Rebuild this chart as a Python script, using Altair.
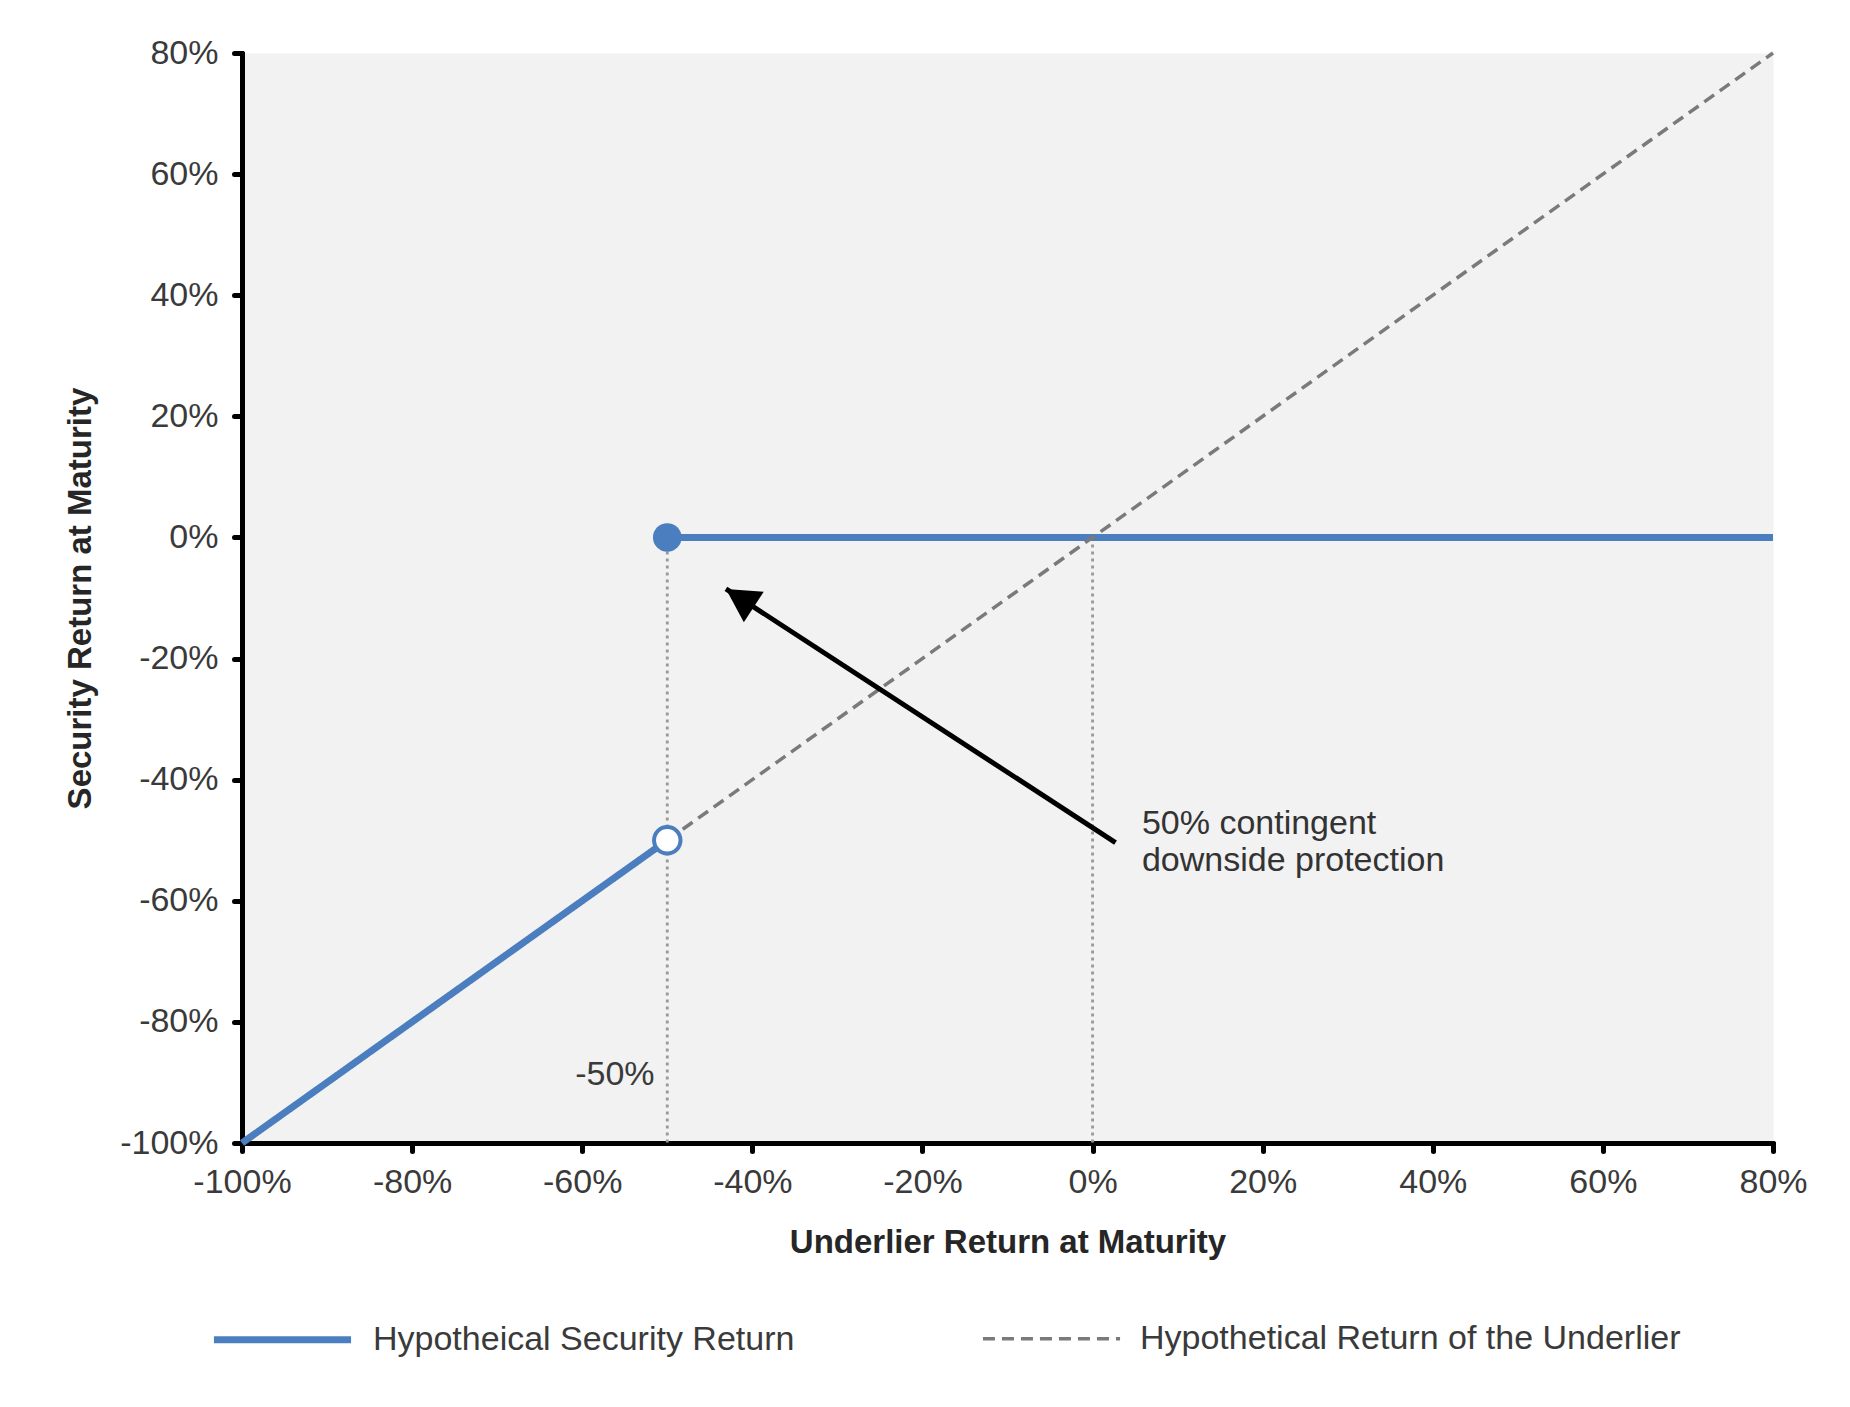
import altair as alt
import pandas as pd

# ---- data ----
series_names = ["Hypotheical Security Return", "Hypothetical Return of the Underlier"]

security_x = [-100, -50, -50, 80]
security_y = [-100, -50, 0, 0]
security_seg = ["below", "below", "above", "above"]

underlier_x = [-50, 80]
underlier_y = [-50, 80]

barrier_x = [-50, 0]          # dotted verticals (from 0% down to -100%)
barrier_top = [0, 0]
barrier_bottom = [-100, -100]

filled_pt_x = [-50]
filled_pt_y = [0]
hollow_pt_x = [-50]
hollow_pt_y = [-50]

arrow_tail_x = [2.7]
arrow_tail_y = [-50.4]
arrow_tip_x = [-43.1]
arrow_tip_y = [-8.5]

note_lines = ["50% contingent", "downside protection"]
note_x = [5.8, 5.8]
note_y = [-47.4, -53.4]

barrier_label = ["-50%"]
barrier_label_x = [-51.5]
barrier_label_y = [-88.7]

ticks = [-100, -80, -60, -40, -20, 0, 20, 40, 60, 80]

BLUE = "#4a7ebf"
GRAY = "#7a7a7a"
FONT = "Liberation Sans"
FS = 34

# ---- tables ----
lines_df = pd.DataFrame({
    "x": security_x + underlier_x,
    "y": security_y + underlier_y,
    "series": [series_names[0]] * len(security_x) + [series_names[1]] * len(underlier_x),
    "seg": security_seg + ["u"] * len(underlier_x),
})
rules_df = pd.DataFrame({"x": barrier_x, "y": barrier_top, "y2": barrier_bottom})
filled_df = pd.DataFrame({"x": filled_pt_x, "y": filled_pt_y})
hollow_df = pd.DataFrame({"x": hollow_pt_x, "y": hollow_pt_y})
arrow_df = pd.DataFrame({"x": arrow_tail_x, "y": arrow_tail_y, "x2": arrow_tip_x, "y2": arrow_tip_y})
head_df = pd.DataFrame({"x": arrow_tip_x, "y": arrow_tip_y})
note_df = pd.DataFrame({"x": note_x, "y": note_y, "t": note_lines})
blabel_df = pd.DataFrame({"x": barrier_label_x, "y": barrier_label_y, "t": barrier_label})

xs = alt.Scale(domain=[-100, 80], nice=False, zero=False)
ys = alt.Scale(domain=[-100, 80], nice=False, zero=False)

x_axis = alt.Axis(values=ticks, labelExpr="datum.value + '%'", title="Underlier Return at Maturity",
                  labelPadding=14, titlePadding=27, labelFlush=False)
y_axis = alt.Axis(values=ticks, labelExpr="datum.value + '%'", title="Security Return at Maturity",
                  labelPadding=16, titlePadding=22, labelFlush=False)

X = alt.X("x:Q", scale=xs, axis=x_axis)
Y = alt.Y("y:Q", scale=ys, axis=y_axis)

rules = alt.Chart(rules_df).mark_rule(color="#999999", strokeWidth=2.8, strokeDash=[3, 4]).encode(
    x="x:Q", y="y:Q", y2="y2:Q"
)

lines = alt.Chart(lines_df).mark_line().encode(
    x=X,
    y=Y,
    detail="seg:N",
    color=alt.Color("series:N", scale=alt.Scale(domain=series_names, range=[BLUE, GRAY]),
                    legend=alt.Legend(orient="none", legendX=-32, legendY=1214, direction="horizontal",
                                      title=None, symbolType="stroke", symbolSize=18800,
                                      labelFontSize=FS, labelFont=FONT, labelColor="#3a3a3a",
                                      labelOffset=18, labelLimit=2000, columnPadding=180, padding=0)),
    strokeDash=alt.StrokeDash("series:N", scale=alt.Scale(domain=series_names, range=[[1, 0], [12, 7]])),
    strokeWidth=alt.StrokeWidth("series:N", scale=alt.Scale(domain=series_names, range=[7, 3.5])),
)

arrow = alt.Chart(arrow_df).mark_rule(color="black", strokeWidth=5).encode(
    x="x:Q", y="y:Q", x2="x2:Q", y2="y2:Q"
)
head = alt.Chart(head_df).mark_point(
    shape="M0,0 L-0.55,1 L0.55,1 Z", filled=True, color="black", opacity=1, size=4400, angle=303
).encode(x="x:Q", y="y:Q")

filled_pt = alt.Chart(filled_df).mark_point(filled=True, color=BLUE, opacity=1, size=820, shape="circle").encode(
    x="x:Q", y="y:Q"
)
hollow_pt = alt.Chart(hollow_df).mark_point(filled=True, fill="white", stroke=BLUE, strokeWidth=4,
                                             opacity=1, size=700, shape="circle").encode(x="x:Q", y="y:Q")

note = alt.Chart(note_df).mark_text(align="left", baseline="middle", font=FONT, fontSize=FS,
                                    color="#333333").encode(x="x:Q", y="y:Q", text="t:N")
blabel = alt.Chart(blabel_df).mark_text(align="right", baseline="middle", font=FONT, fontSize=FS,
                                        color="#3a3a3a").encode(x="x:Q", y="y:Q", text="t:N")

chart = alt.layer(rules, lines, arrow, head, filled_pt, hollow_pt, note, blabel).properties(
    width=1531, height=1090, background="white",
    padding={"left": 56, "top": 28, "right": 30, "bottom": 5}
).configure_view(fill="#f2f2f2", stroke="transparent").configure_axis(
    grid=False, domainColor="black", domainWidth=5, domainCap="round", tickColor="black", tickWidth=5,
    tickSize=8, tickCap="round", labelFont=FONT, labelFontSize=FS, labelColor="#3a3a3a",
    titleFont=FONT, titleFontSize=33, titleFontWeight="bold", titleColor="#262626"
)

chart.save("out.html", embed_options={"renderer": "svg", "actions": False})
